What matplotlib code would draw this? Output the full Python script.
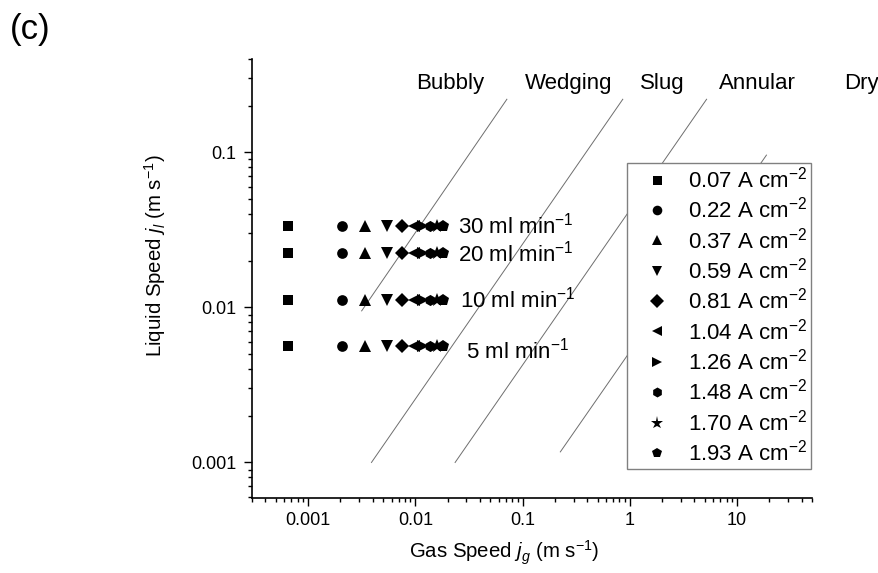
import matplotlib
matplotlib.use("Agg")
import matplotlib.pyplot as plt
from matplotlib import ticker

plt.rcParams['font.family'] = ['Liberation Sans', 'DejaVu Sans']
plt.rcParams['mathtext.fontset'] = 'custom'
plt.rcParams['mathtext.rm'] = 'Liberation Sans'
plt.rcParams['mathtext.it'] = 'Liberation Sans:italic'

# Applied current densities (A cm^-2) and resulting superficial gas speeds (m/s)
current_density = ['0.07', '0.22', '0.37', '0.59', '0.81', '1.04', '1.26', '1.48', '1.70', '1.93']
gas_speed = [0.00065, 0.00205, 0.0034, 0.0055, 0.0075, 0.0097, 0.0117, 0.0138, 0.0158, 0.018]
marker_styles = ['s', 'o', '^', 'v', 'D', '<', '>', 'h', '*', 'p']
marker_sizes = [7.2, 7.7, 8.6, 8.6, 7.4, 8.6, 8.6, 8.0, 10.5, 8.6]

# Water flow rates (ml/min) and corresponding superficial liquid speeds (m/s)
flow_rates = ['30', '20', '10', '5']
liquid_speed = [0.0335, 0.0223, 0.0112, 0.0056]

# Flow-regime transition lines, as (start, end) pairs
boundary_jg = [(0.00316, 0.0714), (0.0039, 0.86), (0.0235, 5.2), (0.225, 18.8)]
boundary_jl = [(0.0095, 0.22), (0.001, 0.22), (0.001, 0.22), (0.00117, 0.096)]

# Regime names along the top
regime_names = ['Bubbly', 'Wedging', 'Slug', 'Annular', 'Dry']
regime_x = [0.0211, 0.269, 2.01, 15.5, 145]
regime_y = 0.279

# Positions of the flow-rate annotations
flow_label_x = [0.0251, 0.0251, 0.0261, 0.0297]
flow_label_y = [0.0335, 0.0223, 0.0112, 0.0053]

W, H = 879, 573
fig = plt.figure(figsize=(W / 100, H / 100), dpi=100)
ax = fig.add_axes([252 / W, 1 - 498 / H, 560 / W, 439 / H])

for (x0, x1), (y0, y1) in zip(boundary_jg, boundary_jl):
    ax.plot([x0, x1], [y0, y1], color='#6e6e6e', lw=0.7, zorder=1)

for cd, jg, m, ms in zip(current_density, gas_speed, marker_styles, marker_sizes):
    ax.plot([jg] * len(liquid_speed), liquid_speed, linestyle='none', marker=m,
            markersize=ms, color='black', markeredgewidth=0,
            label=rf'{cd} A cm$^{{-2}}$', zorder=3)

fs_text = 16
fs_tick = 13
fs_label = 14.7

for name, x in zip(regime_names, regime_x):
    ax.text(x, regime_y, name, ha='center', va='center', fontsize=fs_text, clip_on=False)

for q, x, y in zip(flow_rates, flow_label_x, flow_label_y):
    ax.text(x, y, rf'{q} ml min$^{{-1}}$', ha='left', va='center', fontsize=fs_text)

ax.set_xscale('log')
ax.set_yscale('log')
ax.set_xlim(3e-4, 50)
ax.set_ylim(5.9e-4, 0.4)

fmt = ticker.FuncFormatter(lambda v, p: f'{v:g}')
for axis in (ax.xaxis, ax.yaxis):
    axis.set_major_locator(ticker.LogLocator(base=10))
    axis.set_minor_locator(ticker.LogLocator(base=10, subs=range(2, 10)))
    axis.set_major_formatter(fmt)
    axis.set_minor_formatter(ticker.NullFormatter())

ax.tick_params(which='major', direction='out', length=6, width=1.0, labelsize=fs_tick)
ax.tick_params(which='minor', direction='out', length=3, width=1.0)
ax.tick_params(axis='x', which='major', pad=4)
ax.tick_params(axis='y', which='major', pad=5.5)

for side in ('top', 'right'):
    ax.spines[side].set_visible(False)
for side in ('left', 'bottom'):
    ax.spines[side].set_linewidth(1.2)

ax.set_xlabel(r'Gas Speed $j_g$ (m s$^{-1}$)', fontsize=fs_label, va='center')
ax.set_ylabel(r'Liquid Speed $j_l$ (m s$^{-1}$)', fontsize=fs_label, va='center')
ax.xaxis.set_label_coords((504 - 252) / 560, (498 - 553) / 439)
ax.yaxis.set_label_coords((155 - 252) / 560, (498 - 256) / 439)

leg = ax.legend(loc='upper left', bbox_to_anchor=(627.3 / W, 1 - 163.3 / H),
                bbox_transform=fig.transFigure, borderaxespad=0, fontsize=fs_text,
                frameon=True, fancybox=False, framealpha=1, edgecolor='#808080',
                borderpad=0.15, labelspacing=0.2, handlelength=2.34,
                handletextpad=0.26, markerscale=0.9)
leg.get_frame().set_linewidth(1.0)
leg.set_zorder(5)

fig.text(10 / W, 1 - 30 / H, '(c)', fontsize=25, ha='left', va='center')

fig.savefig('out.png', dpi=100)
